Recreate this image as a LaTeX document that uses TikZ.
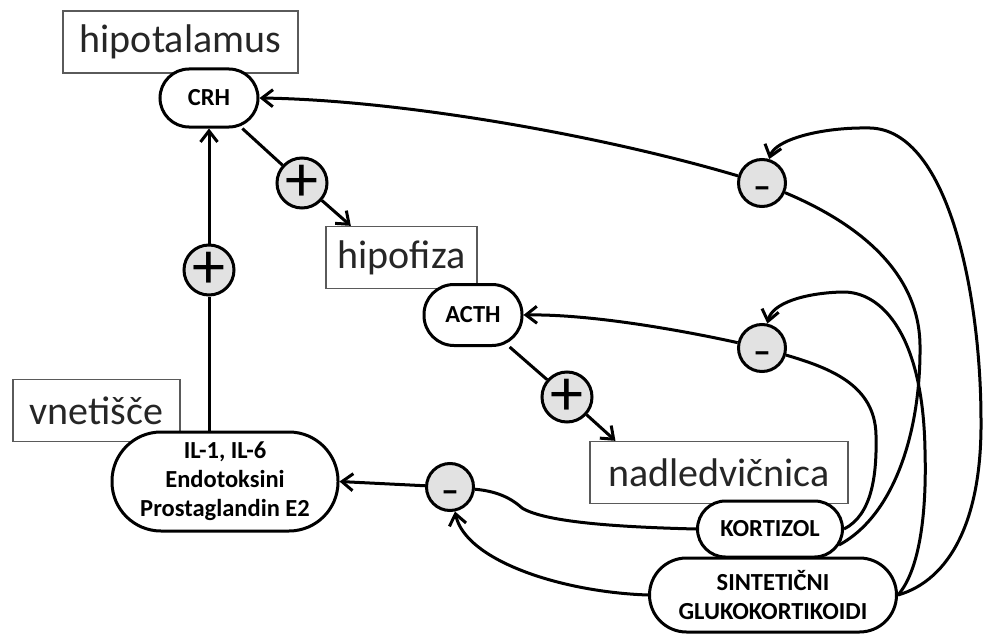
\documentclass[tikz,border=0pt]{standalone}
\usepackage{fontspec}
\setmainfont{Carlito}
\usetikzlibrary{arrows.meta}
\definecolor{signgrey}{RGB}{226,226,226}
\definecolor{boxline}{RGB}{90,90,90}
\tikzset{
  organ/.style={draw=boxline,line width=1.3pt,fill=white,inner sep=0pt,
    minimum height=62,text=black!85,font=\fontsize{40}{44}\selectfont},
  pill/.style={draw,line width=3pt,fill=white,inner sep=0pt,align=center,
    rounded corners=#1,font=\bfseries\fontsize{24.5}{29}\selectfont},
  plussign/.style={circle,draw,line width=3pt,fill=signgrey,inner sep=0pt,
    minimum size=50,font=\fontsize{66}{66}\selectfont},
  minussign/.style={circle,draw,line width=3pt,fill=signgrey,inner sep=0pt,
    minimum size=47,text height=0pt,text depth=0pt,
    font=\bfseries\fontsize{36}{36}\selectfont},
  conn/.style={line width=3pt},
  arr/.style={conn,-{Straight Barb[length=11pt,width=17pt]}},
}
\begin{document}
\begin{tikzpicture}[x=1pt,y=-1pt]
  \useasboundingbox (0,0) rectangle (986,634);
  % organ labels: name / x / y / width / text
  \foreach \nm/\xx/\yy/\ww/\txt in {
    hipot/180.5/42/235/hipotalamus,
    hipof/401.5/257.5/151/hipofiza,
    vnet/96.5/410.5/167/vnetišče,
    nadl/719/472.5/258/nadledvičnica} {
    \node[organ,minimum width=\ww] (\nm) at (\xx,\yy) {\txt};
  }
  % hormones and mediators
  \node[pill=29,minimum width=98,minimum height=58] (crh) at (209,98) {CRH};
  \node[pill=30,minimum width=98,minimum height=61] (acth) at (473,315) {ACTH};
  \node[pill=28,minimum width=145,minimum height=56] (kort) at (770,529) {KORTIZOL};
  \node[pill=37,minimum width=247,minimum height=74] (sint) at (773,595)
    {SINTETIČNI\\GLUKOKORTIKOIDI};
  \node[pill=49,minimum width=226,minimum height=99] (il) at (225,481.5)
    {IL-1, IL-6\\Endotoksini\\Prostaglandin E2};
  % stimulation / inhibition signs
  \foreach \nm/\xx/\yy in {pA/302/183, pB/567/397, pC/209/270}
    \node[plussign] (\nm) at (\xx,\yy) {+};
  \foreach \nm/\xx/\yy in {mA/762/183, mB/762/348, mC/450/487}
    \node[minussign] (\nm) at (\xx,\yy) {\raisebox{-15pt}{–}};
  % axis: CRH -> ACTH -> kortizol
  \draw[conn] (crh) -- (pA);
  \draw[arr] (pA) -- (hipof.148);
  \draw[conn] (acth) -- (pB);
  \draw[arr] (pB) -- (nadl.163);
  \draw[conn] (pC |- il.north) -- (pC);
  \draw[arr] (pC) -- (pC |- crh.south);
  % negative feedback
  \draw[arr] (mA) .. controls (600,135) and (400,100) .. (crh.east);
  \draw[arr] (mB) .. controls (680,330) and (590,314) .. (acth.east);
  \draw[arr] (mC) -- (il.east);
  % from kortizol
  \draw[conn] (kort.west) .. controls (615,527) and (545,522) .. (522,508)
    .. controls (510,497) and (495,491) .. (mC);
  \draw[conn] (kort.east) .. controls (872,515) and (877,475) .. (876,435)
    .. controls (875,385) and (830,368) .. (mB);
  \draw[conn] ([xshift=-5pt,yshift=-16pt]kort.east)
    .. controls (895,515) and (921,430) .. (920,345)
    .. controls (919,270) and (855,222) .. (mA);
  % from synthetic glucocorticoids
  \draw[arr] (sint.west) .. controls (560,592) and (465,560) .. (mC);
  \draw[arr] (sint.east) .. controls (950,580) and (982,520) .. (981,420)
    .. controls (981,300) and (950,130) .. (870,128)
    .. controls (820,127) and (775,140) .. (mA);
  \draw[arr] (sint.east) .. controls (918,572) and (927,520) .. (925,450)
    .. controls (923,335) and (882,291) .. (842,292)
    .. controls (805,293) and (772,303) .. (mB);
\end{tikzpicture}
\end{document}
